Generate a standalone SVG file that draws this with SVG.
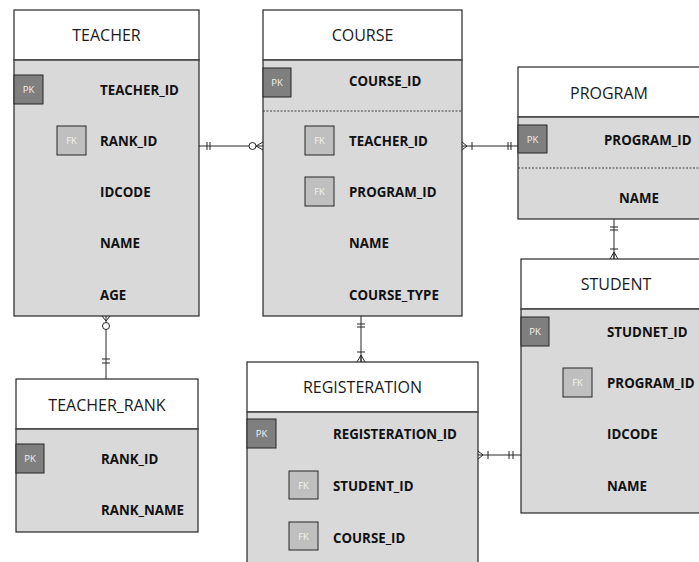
<svg xmlns="http://www.w3.org/2000/svg" width="699" height="562" viewBox="0 0 699 562">
<style>
.hdr{fill:#ffffff;stroke:#262626;stroke-width:1.2}
.body{fill:#d9d9d9;stroke:#262626;stroke-width:1.2}
.sep{stroke:#595959;stroke-width:1;fill:none}
.dash{stroke:#404040;stroke-width:1;stroke-dasharray:2 1.5;fill:none}
.pk{fill:#7f7f7f;stroke:#262626;stroke-width:1}
.fk{fill:#bfbfbf;stroke:#262626;stroke-width:1}
.kt{font-family:"Open Sans","Liberation Sans",sans-serif;font-size:9.5px;fill:#f2f2f2;text-anchor:middle;dominant-baseline:central}
.title{font-family:"Open Sans","Liberation Sans",sans-serif;font-size:16px;fill:#1a1a1a;text-anchor:middle;dominant-baseline:central}
.f{font-family:"Open Sans","Liberation Sans",sans-serif;font-size:13.3px;font-weight:bold;fill:#111;dominant-baseline:central}
.c{stroke:#262626;stroke-width:1;fill:none}
.o{stroke:#262626;stroke-width:1;fill:#ffffff}
</style>

<g id="teacher">
<rect class="hdr" x="14" y="10" width="185" height="50"/>
<rect class="body" x="14" y="60" width="185" height="256"/>
<line class="sep" x1="14" y1="60" x2="199" y2="60"/>
<text class="title" x="106.5" y="35">TEACHER</text>
<rect class="pk" x="14" y="75" width="29" height="29"/><text class="kt" x="28.5" y="89.5">PK</text>
<rect class="fk" x="57" y="126" width="29" height="29"/><text class="kt" x="71.5" y="140.5">FK</text>
<text class="f" x="100" y="90">TEACHER_ID</text>
<text class="f" x="100" y="141">RANK_ID</text>
<text class="f" x="100" y="192">IDCODE</text>
<text class="f" x="100" y="243">NAME</text>
<text class="f" x="100" y="295">AGE</text>
</g>

<g id="course">
<rect class="hdr" x="263" y="10" width="199" height="50"/>
<rect class="body" x="263" y="60" width="199" height="256"/>
<line class="sep" x1="263" y1="60" x2="462" y2="60"/>
<text class="title" x="362.5" y="35">COURSE</text>
<rect class="pk" x="263" y="68" width="28" height="29"/><text class="kt" x="277" y="82.5">PK</text>
<line class="dash" x1="263" y1="111" x2="462" y2="111"/>
<rect class="fk" x="305" y="126" width="29" height="29"/><text class="kt" x="319.5" y="140.5">FK</text>
<rect class="fk" x="305" y="177" width="29" height="29"/><text class="kt" x="319.5" y="191.5">FK</text>
<text class="f" x="349" y="81">COURSE_ID</text>
<text class="f" x="349" y="141">TEACHER_ID</text>
<text class="f" x="349" y="192">PROGRAM_ID</text>
<text class="f" x="349" y="243">NAME</text>
<text class="f" x="349" y="295">COURSE_TYPE</text>
</g>

<g id="program">
<rect class="hdr" x="518" y="67" width="190" height="50"/>
<rect class="body" x="518" y="117" width="190" height="102"/>
<line class="sep" x1="518" y1="117" x2="708" y2="117"/>
<text class="title" x="609" y="93">PROGRAM</text>
<rect class="pk" x="518" y="125" width="29" height="28"/><text class="kt" x="532.5" y="139">PK</text>
<line class="dash" x1="518" y1="168" x2="708" y2="168"/>
<text class="f" x="604" y="140">PROGRAM_ID</text>
<text class="f" x="619" y="198">NAME</text>
</g>

<g id="student">
<rect class="hdr" x="521" y="259" width="190" height="50"/>
<rect class="body" x="521" y="309" width="190" height="204"/>
<line class="sep" x1="521" y1="309" x2="711" y2="309"/>
<text class="title" x="616" y="284">STUDENT</text>
<rect class="pk" x="521" y="317" width="28" height="29"/><text class="kt" x="535" y="331.5">PK</text>
<rect class="fk" x="563" y="368" width="29" height="29"/><text class="kt" x="577.5" y="382.5">FK</text>
<text class="f" x="607" y="332">STUDNET_ID</text>
<text class="f" x="607" y="383">PROGRAM_ID</text>
<text class="f" x="607" y="434">IDCODE</text>
<text class="f" x="607" y="486">NAME</text>
</g>

<g id="teacher_rank">
<rect class="hdr" x="16" y="379" width="182" height="50"/>
<rect class="body" x="16" y="429" width="182" height="103"/>
<line class="sep" x1="16" y1="429" x2="198" y2="429"/>
<text class="title" x="107" y="405">TEACHER_RANK</text>
<rect class="pk" x="16" y="444" width="28" height="29"/><text class="kt" x="30" y="458.5">PK</text>
<text class="f" x="101" y="459">RANK_ID</text>
<text class="f" x="101" y="510">RANK_NAME</text>
</g>

<g id="registeration">
<rect class="hdr" x="247" y="362" width="231" height="50"/>
<rect class="body" x="247" y="412" width="231" height="160"/>
<line class="sep" x1="247" y1="412" x2="478" y2="412"/>
<text class="title" x="362.5" y="387">REGISTERATION</text>
<rect class="pk" x="247" y="419" width="29" height="29"/><text class="kt" x="261.5" y="433.5">PK</text>
<rect class="fk" x="289" y="471" width="29" height="28"/><text class="kt" x="303.5" y="485">FK</text>
<rect class="fk" x="289" y="522" width="29" height="28"/><text class="kt" x="303.5" y="536">FK</text>
<text class="f" x="333" y="434">REGISTERATION_ID</text>
<text class="f" x="333" y="486">STUDENT_ID</text>
<text class="f" x="333" y="538">COURSE_ID</text>
</g>

<g id="connectors">
<!-- TEACHER - COURSE -->
<path class="c" d="M199 146H252M207 142V150M210 142V150M256 146L263 142M256 146L263 146M256 146L263 150"/>
<circle class="o" cx="252.5" cy="146" r="3.5"/>
<!-- COURSE - PROGRAM -->
<path class="c" d="M462 146H518M467 146L462 142M467 146L462 150M472 142V150M508 142V150M511 142V150"/>
<!-- PROGRAM - STUDENT -->
<path class="c" d="M614 219V259M610 227H618M610 230H618M610 249H618M614 252L610 259M614 252L614 259M614 252L618 259"/>
<!-- TEACHER - TEACHER_RANK -->
<path class="c" d="M106 316V379M106 321L102 316M106 321L110 316M102 359H110M102 363H110"/>
<circle class="o" cx="106" cy="326" r="3.5"/>
<!-- COURSE - REGISTERATION -->
<path class="c" d="M361 316V362M357 324H365M357 327H365M357 352H365M361 355L357 362M361 355L361 362M361 355L365 362"/>
<!-- REGISTERATION - STUDENT -->
<path class="c" d="M478 455H521M483 455L478 451M483 455L478 459M488 451V459M509 451V459M513 451V459"/>
</g>
</svg>
